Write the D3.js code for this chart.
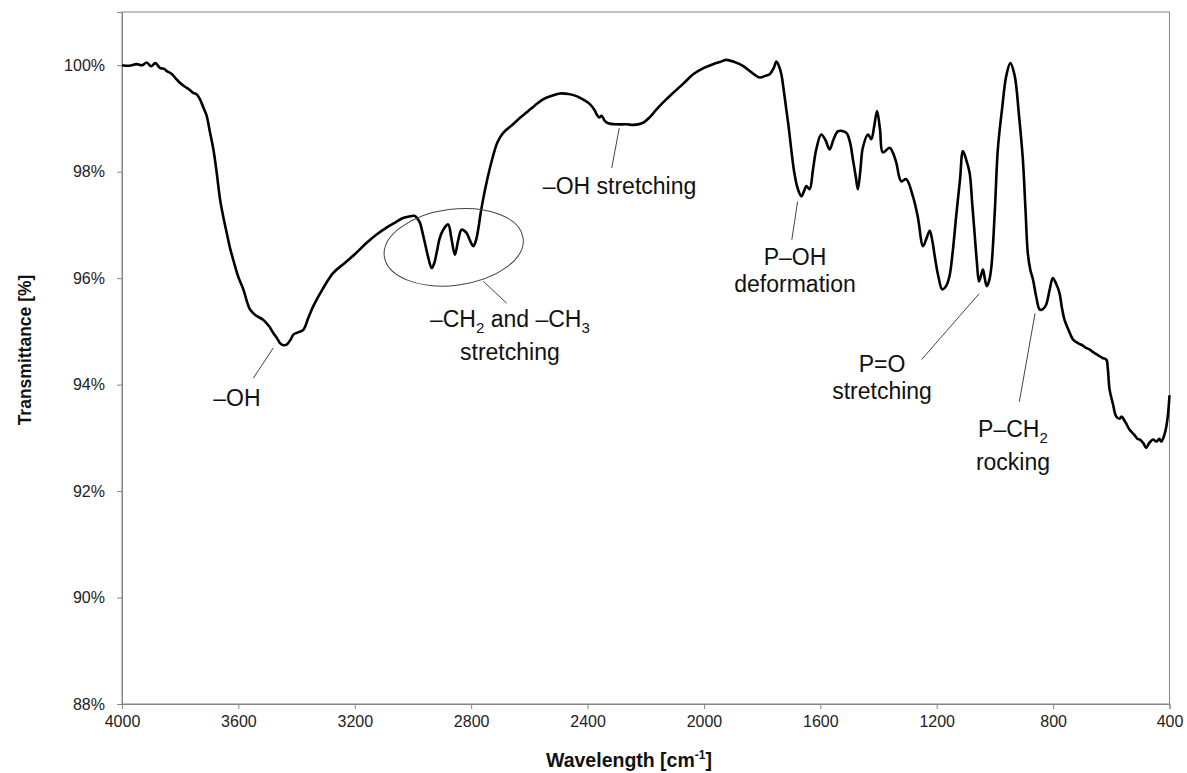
<!DOCTYPE html>
<html>
<head>
    <meta charset="utf-8">
    <title>FTIR spectrum</title>
    <script src="https://d3js.org/d3.v7.min.js"></script>
    <style>
        body { margin: 0; background: #fff; }
        svg { font-family: "Liberation Sans", Arial, sans-serif; }
        .axis path, .axis line { stroke: #858585; }
        .axis text { font-size: 16px; fill: #222; }
        .spectrum { fill: none; stroke: #000; stroke-width: 2.6px; stroke-linejoin: round; }
        .note { font-size: 23px; fill: #111; }
        .leader { stroke: #444; stroke-width: 1px; fill: none; }
        .axis-title { font-weight: bold; fill: #111; }
    </style>
</head>
<body>
    <div id="chart"></div>
    <script>
        // Wavenumber (cm-1) and transmittance (%)
        const wavenumber = [
            4000, 3975, 3950, 3930, 3915, 3900, 3885, 3870, 3855, 3846, 3830, 3815, 3801, 3785, 3770, 3755,
            3743, 3732, 3720, 3709, 3698, 3686, 3675, 3663, 3650, 3640, 3628, 3618, 3600, 3583, 3570, 3560,
            3540, 3515, 3495, 3480, 3465, 3457, 3445, 3434, 3420, 3411, 3395, 3377, 3360, 3343, 3310, 3274,
            3240, 3200, 3160, 3125, 3091, 3060, 3034, 3010, 2994, 2985, 2976, 2967, 2959, 2948, 2936, 2927,
            2919, 2908, 2896, 2879, 2868, 2856, 2845, 2833, 2816, 2805, 2793, 2784, 2776, 2768, 2759, 2745,
            2725, 2710, 2690, 2656, 2633, 2610, 2580, 2553, 2520, 2495, 2465, 2438, 2410, 2392, 2375, 2369,
            2360, 2352, 2340, 2329, 2300, 2266, 2240, 2209, 2185, 2163, 2135, 2106, 2070, 2037, 2000, 1969,
            1945, 1923, 1895, 1866, 1840, 1808, 1790, 1774, 1760, 1751, 1742, 1734, 1725, 1717, 1708, 1700,
            1690, 1677, 1665, 1655, 1648, 1637, 1625, 1614, 1597, 1583, 1568, 1555, 1539, 1511, 1498, 1488,
            1478, 1471, 1462, 1454, 1436, 1425, 1415, 1405, 1395, 1385, 1362, 1350, 1339, 1322, 1305, 1282,
            1265, 1247, 1235, 1224, 1215, 1207, 1195, 1181, 1168, 1156, 1145, 1133, 1120, 1110, 1099, 1087,
            1078, 1070, 1062, 1055, 1048, 1041, 1035, 1028, 1020, 1012, 1000, 990, 975, 961, 947, 932,
            918, 904, 895, 887, 878, 869, 858, 846, 835, 824, 812, 801, 790, 778, 770, 761,
            745, 732, 715, 700, 690, 675, 660, 645, 630, 617, 612, 606, 595, 583, 572, 565,
            560, 550, 537, 520, 510, 503, 490, 480, 470, 457, 445, 435, 428, 418, 411, 405, 400
        ];
        const transmittance = [
            100.00, 99.99, 100.02, 100.00, 100.05, 99.98, 100.04, 99.95, 99.93, 99.89, 99.84, 99.75, 99.67, 99.60, 99.55, 99.48,
            99.45, 99.36, 99.20, 99.05, 98.75, 98.42, 98.00, 97.48, 97.10, 96.85, 96.55, 96.35, 96.02, 95.79, 95.55, 95.41,
            95.30, 95.22, 95.10, 94.97, 94.85, 94.78, 94.74, 94.75, 94.85, 94.94, 94.98, 95.03, 95.25, 95.47, 95.80, 96.10,
            96.26, 96.45, 96.66, 96.82, 96.95, 97.05, 97.13, 97.16, 97.17, 97.12, 97.04, 96.85, 96.66, 96.40, 96.19, 96.28,
            96.47, 96.75, 96.91, 97.01, 96.75, 96.44, 96.70, 96.91, 96.85, 96.72, 96.60, 96.70, 96.91, 97.20, 97.48, 97.85,
            98.29, 98.55, 98.73, 98.89, 99.01, 99.11, 99.25, 99.36, 99.43, 99.47, 99.46, 99.42, 99.34, 99.27, 99.15, 99.08,
            99.02, 99.05, 98.95, 98.91, 98.89, 98.89, 98.88, 98.92, 99.03, 99.17, 99.33, 99.48, 99.66, 99.83, 99.95, 100.02,
            100.06, 100.10, 100.06, 99.99, 99.88, 99.77, 99.80, 99.83, 99.95, 100.07, 99.98, 99.83, 99.50, 99.17, 98.80, 98.42,
            98.00, 97.67, 97.54, 97.65, 97.73, 97.67, 98.05, 98.42, 98.70, 98.60, 98.42, 98.60, 98.76, 98.73, 98.55, 98.23,
            97.90, 97.67, 98.05, 98.45, 98.70, 98.61, 98.85, 99.14, 98.80, 98.36, 98.45, 98.35, 98.17, 97.82, 97.86, 97.54,
            97.15, 96.60, 96.75, 96.89, 96.70, 96.42, 96.05, 95.79, 95.85, 96.04, 96.50, 97.17, 97.85, 98.39, 98.23, 97.98,
            97.40, 96.85, 96.30, 95.94, 96.05, 96.16, 96.00, 95.85, 95.95, 96.22, 97.30, 98.42, 99.20, 99.80, 100.04, 99.80,
            99.10, 98.23, 97.30, 96.47, 96.15, 95.97, 95.65, 95.41, 95.42, 95.50, 95.78, 96.00, 95.90, 95.72, 95.45, 95.22,
            95.00, 94.85, 94.78, 94.74, 94.70, 94.66, 94.60, 94.55, 94.50, 94.47, 94.30, 93.91, 93.65, 93.40, 93.36, 93.40,
            93.37, 93.28, 93.15, 93.05, 92.98, 92.97, 92.90, 92.81, 92.90, 92.97, 92.93, 92.98, 92.93, 93.05, 93.21, 93.45, 93.80
        ];

        const xTicks = [4000, 3600, 3200, 2800, 2400, 2000, 1600, 1200, 800, 400];
        const yTicks = [88, 90, 92, 94, 96, 98, 100];

        // Band labels: text anchor [wavenumber, %] and leader line ends
        const noteLines = [
            ["\u2013OH"],
            ["\u2013CH|2| and \u2013CH|3|", "stretching"],
            ["\u2013OH stretching"],
            ["P\u2013OH", "deformation"],
            ["P=O", "stretching"],
            ["P\u2013CH|2|", "rocking"]
        ];
        const notePos = [[3605, 93.60], [2667, 95.085], [2290, 97.58], [1687, 96.25], [1388, 94.245], [938, 93.02]];
        const leaderFrom = [[3480, 94.69], [2758, 95.94], [2291, 98.82], [1678, 97.44], [1054, 95.71], [862, 95.34]];
        const leaderTo = [[3549, 94.12], [2678, 95.53], [2317, 98.07], [1698, 96.72], [1252, 94.47], [916, 93.68]];
        const ellipseCenter = [2860, 96.58];

        const width = 1187, height = 773;
        const margin = { top: 12, right: 17.5, bottom: 69, left: 122 };

        const svg = d3.select("#chart")
            .append("svg")
            .attr("width", width)
            .attr("height", height);

        const x = d3.scaleLinear()
            .domain([4000, 400])
            .range([margin.left, width - margin.right]);

        const y = d3.scaleLinear()
            .domain([88, 101])
            .range([height - margin.bottom, margin.top]);

        // plot frame
        svg.append("rect")
            .attr("x", margin.left)
            .attr("y", margin.top)
            .attr("width", x.range()[1] - margin.left)
            .attr("height", y.range()[0] - margin.top)
            .attr("fill", "none")
            .attr("stroke", "#858585");

        svg.append("g")
            .attr("class", "axis")
            .attr("transform", "translate(0," + y.range()[0] + ")")
            .call(d3.axisBottom(x).tickValues(xTicks).tickSize(5).tickPadding(7).tickFormat(d3.format("d")));

        svg.append("g")
            .attr("class", "axis")
            .attr("transform", "translate(" + margin.left + ",0)")
            .call(d3.axisLeft(y).tickValues(yTicks).tickSize(5).tickPadding(12).tickFormat(d => d + "%"));

        const points = wavenumber.map((w, i) => [w, transmittance[i]]);

        const line = d3.line()
            .x(d => x(d[0]))
            .y(d => y(d[1]))
            .curve(d3.curveCatmullRom.alpha(0.5));

        svg.append("path")
            .datum(points)
            .attr("class", "spectrum")
            .attr("d", line);

        // ellipse around the CH bands
        svg.append("ellipse")
            .attr("cx", x(ellipseCenter[0]))
            .attr("cy", y(ellipseCenter[1]))
            .attr("rx", 70)
            .attr("ry", 38)
            .attr("transform", "rotate(-7.5," + x(ellipseCenter[0]) + "," + y(ellipseCenter[1]) + ")")
            .attr("class", "leader");

        leaderFrom.forEach((p, i) => {
            svg.append("line")
                .attr("class", "leader")
                .attr("x1", x(p[0])).attr("y1", y(p[1]))
                .attr("x2", x(leaderTo[i][0])).attr("y2", y(leaderTo[i][1]));
        });

        // label text, "|n|" marks a subscript
        noteLines.forEach((lines, i) => {
            const t = svg.append("text")
                .attr("class", "note")
                .attr("text-anchor", "middle")
                .attr("x", x(notePos[i][0]))
                .attr("y", y(notePos[i][1]));
            lines.forEach((ln, j) => {
                const parts = ln.split("|");
                parts.forEach((part, k) => {
                    const ts = t.append("tspan").text(part);
                    if (k === 0 && j > 0) ts.attr("x", x(notePos[i][0])).attr("dy", 27);
                    if (k % 2 === 1) ts.attr("font-size", 15).attr("dy", 6);
                    if (k > 0 && k % 2 === 0) ts.attr("dy", -6);
                });
            });
        });

        svg.append("text")
            .attr("class", "axis-title")
            .attr("font-size", 17.5)
            .attr("transform", "translate(31,350) rotate(-90)")
            .attr("text-anchor", "middle")
            .text("Transmittance [%]");

        const xt = svg.append("text")
            .attr("class", "axis-title")
            .attr("font-size", 19.5)
            .attr("x", 629)
            .attr("y", 767)
            .attr("text-anchor", "middle");
        xt.append("tspan").text("Wavelength [cm");
        xt.append("tspan").text("-1").attr("font-size", 12).attr("dy", -8);
        xt.append("tspan").text("]").attr("dy", 8);
    </script>
</body>
</html>
